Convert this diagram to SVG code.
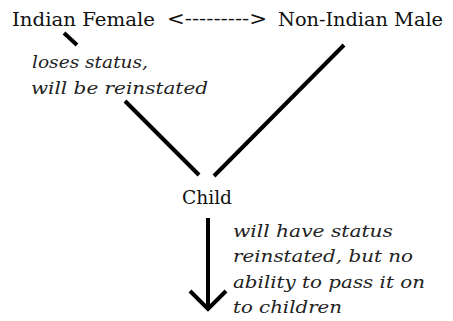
<svg xmlns="http://www.w3.org/2000/svg" width="453" height="321" viewBox="0 0 453 321">
<style>
.t{font-size:18px;fill:#111}
.i{font-size:17px;font-style:italic;fill:#222}
.c{stroke:#000;stroke-width:4;fill:none;stroke-linecap:butt}
</style>
<rect width="453" height="321" fill="#fff"/>
<g font-family="'DejaVu Serif', 'Liberation Serif', serif">
<g id="female"><text class="t" x="12" y="26" textLength="143" lengthAdjust="spacingAndGlyphs">Indian Female</text></g>
<g id="relation"><text class="t" x="167" y="25" font-size="14" fill="#333" textLength="100" lengthAdjust="spacingAndGlyphs">&lt;---------&gt;</text></g>
<g id="male"><text class="t" x="278" y="26" textLength="165" lengthAdjust="spacingAndGlyphs">Non-Indian Male</text></g>
<g id="child"><text class="t" x="182" y="204" textLength="50" lengthAdjust="spacingAndGlyphs">Child</text></g>
<g id="note1"><text class="i" x="32" y="68" textLength="116" lengthAdjust="spacingAndGlyphs">loses status,</text><text class="i" x="31" y="94" textLength="177" lengthAdjust="spacingAndGlyphs">will be reinstated</text></g>
<g id="note2"><text class="i" x="233" y="237" textLength="160" lengthAdjust="spacingAndGlyphs">will have status</text><text class="i" x="233" y="262" textLength="180" lengthAdjust="spacingAndGlyphs">reinstated, but no</text><text class="i" x="233" y="288" textLength="192" lengthAdjust="spacingAndGlyphs">ability to pass it on</text><text class="i" x="233" y="313" textLength="109" lengthAdjust="spacingAndGlyphs">to children</text></g>
</g>
<g id="connectors">
<line class="c" x1="64" y1="33" x2="77" y2="45"/>
<line class="c" x1="125" y1="101" x2="199" y2="175"/>
<line class="c" x1="344" y1="45" x2="214" y2="176"/>
<line class="c" x1="208" y1="218" x2="208" y2="309"/>
<polyline class="c" points="190,291 208,309 226,291"/>
</g>
</svg>
